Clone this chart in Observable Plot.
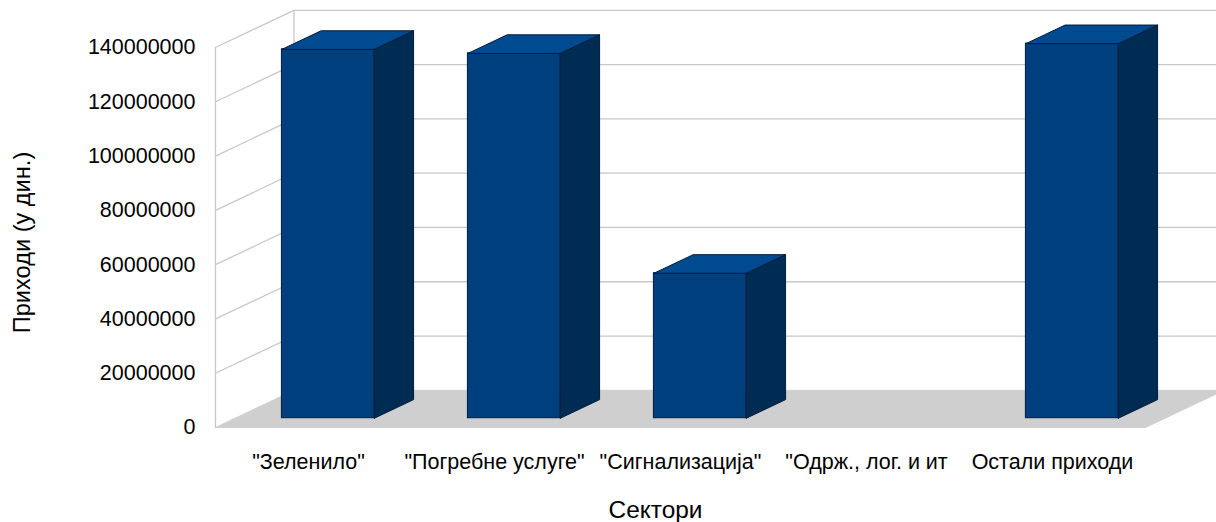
<!DOCTYPE html>
<html>
<head>
<meta charset="utf-8">
<script src="https://cdn.jsdelivr.net/npm/d3@7"></script>
<script src="https://cdn.jsdelivr.net/npm/@observablehq/plot@0.6"></script>
<style>
html,body{margin:0;padding:0;background:#fff;overflow:hidden}
svg{display:block}
</style>
</head>
<body>
<div id="chart"></div>
<script>
const categories = ['"Зеленило"', '"Погребне услуге"', '"Сигнализација"', '"Одрж., лог. и ит', 'Остали приходи'];
const revenues = [135900000, 134400000, 53400000, 0, 138000000];
const yTicks = [0, 20000000, 40000000, 60000000, 80000000, 100000000, 120000000, 140000000];
const slotCenters = [0.5, 1.5, 2.5, 3.5, 4.5];
const xTitle = "Сектори";
const yTitle = "Приходи (у дин.)";

// oblique projection of the chart's depth axis onto the x (slot) and y (value) scales
const depthX = 0.422;
const depthY = 13700000;
const project = (slot, value, depth) => ({x: slot + depth * depthX, y: value + depth * depthY});
const poly = (id, corners) => [...corners, corners[0]].map(c => ({id, ...project(...c)}));

const lastSlot = categories.length;
const barHalf = 0.2485, depthNear = 0.25, depthFar = 0.75;
const bars = revenues.map((v, i) => ({v, i})).filter(d => d.v > 0);

const floor = poly("floor", [[0, 0, 0], [lastSlot, 0, 0], [lastSlot, 0, 1], [0, 0, 1]]);
const grid = yTicks.filter(v => v > 0).flatMap(v => [
  {id: v, ...project(0, v, 0)}, {id: v, ...project(0, v, 1)}, {id: v, ...project(lastSlot, v, 1)}
]);
const wallEdges = [
  {id: "a", ...project(0, 0, 0)}, {id: "a", ...project(0, yTicks[7], 0)},
  {id: "b", ...project(0, 0, 1)}, {id: "b", ...project(0, yTicks[7], 1)}
];
const fronts = bars.map(({v, i}) => {
  const a = project(i + 0.5 - barHalf, 0, depthNear), b = project(i + 0.5 + barHalf, v, depthNear);
  return {x1: a.x, x2: b.x, y1: a.y, y2: b.y};
});
const sides = bars.flatMap(({v, i}) => {
  const r = i + 0.5 + barHalf;
  return poly(i, [[r, 0, depthNear], [r, 0, depthFar], [r, v, depthFar], [r, v, depthNear]]);
});
const tops = bars.flatMap(({v, i}) => {
  const l = i + 0.5 - barHalf, r = i + 0.5 + barHalf;
  return poly(i, [[l, v, depthNear], [r, v, depthNear], [r, v, depthFar], [l, v, depthFar]]);
});

const edge = "#001c3c";
const chart = Plot.plot({
  width: 1216, height: 522,
  marginLeft: 215, marginRight: 71, marginTop: 47, marginBottom: 95,
  style: {fontFamily: "'Liberation Sans', Arial, sans-serif", background: "#fff", color: "#000"},
  x: {domain: [0, lastSlot], axis: null},
  y: {domain: [0, yTicks[7]], axis: null},
  marks: [
    Plot.line(floor, {x: "x", y: "y", z: "id", fill: "#cfcfcf", stroke: "#cfcfcf", strokeWidth: 1}),
    Plot.line(grid, {x: "x", y: "y", z: "id", stroke: "#c8c8c8", strokeWidth: 1.3}),
    Plot.line(wallEdges, {x: "x", y: "y", z: "id", stroke: "#c8c8c8", strokeWidth: 1.3}),
    Plot.rect(fronts, {x1: "x1", x2: "x2", y1: "y1", y2: "y2", fill: "#003f7e", stroke: edge, strokeWidth: 1}),
    Plot.line(sides, {x: "x", y: "y", z: "id", fill: "#002b52", stroke: edge, strokeWidth: 1}),
    Plot.line(tops, {x: "x", y: "y", z: "id", fill: "#004a8f", stroke: edge, strokeWidth: 1}),
    Plot.axisY({ticks: yTicks, tickSize: 0, tickPadding: 20, fontSize: 21.5, label: null, tickFormat: d => String(d)}),
    Plot.axisX({ticks: slotCenters, tickSize: 0, tickPadding: 26, fontSize: 21.5, label: null,
      tickFormat: d => categories[Math.floor(d)]}),
    Plot.text([xTitle], {frameAnchor: "bottom", dx: -25, dy: 90, fontSize: 24.4, text: d => d}),
    Plot.text([yTitle], {frameAnchor: "left", textAnchor: "middle", rotate: -90, dx: -193, dy: 5, fontSize: 23.6, text: d => d})
  ]
});
document.getElementById("chart").appendChild(chart);
</script>
</body>
</html>
